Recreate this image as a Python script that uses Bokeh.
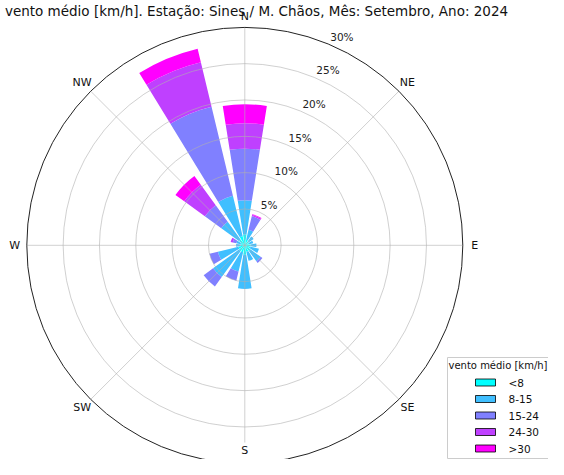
import numpy as np
from bokeh.plotting import figure
from bokeh.models import Range1d
from bokeh.embed import file_html
from bokeh.resources import INLINE
from bokeh.core.properties import value

# ---------------- data ----------------
title = "vento médio [km/h]. Estação: Sines / M. Chãos, Mês: Setembro, Ano: 2024"
directions = ["N", "NNE", "NE", "ENE", "E", "ESE", "SE", "SSE",
              "S", "SSW", "SW", "WSW", "W", "WNW", "NW", "NNW"]
bins = ["<8", "8-15", "15-24", "24-30", ">30"]
freq_lt8 = [1.5, 0.8, 0.7, 0.6, 0.8, 0.8, 1.0, 0.9, 1.3, 1.0, 1.0, 0.9, 0.6, 0.6, 1.0, 1.3]
freq_8_15 = [4.7, 1.4, 0.8, 0.6, 0.8, 1.2, 1.7, 1.3, 4.7, 2.7, 4.4, 2.9, 0.6, 0.6, 3.0, 5.7]
freq_15_24 = [7.1, 1.9, 0.0, 0.0, 0.0, 0.0, 0.3, 0.0, 0.0, 1.3, 1.6, 1.2, 0.0, 0.5, 2.8, 12.6]
freq_24_30 = [3.5, 0.2, 0.0, 0.0, 0.0, 0.0, 0.0, 0.0, 0.0, 0.0, 0.0, 0.0, 0.0, 0.3, 3.5, 6.3]
freq_gt30 = [2.6, 0.1, 0.0, 0.0, 0.0, 0.0, 0.0, 0.0, 0.0, 0.0, 0.0, 0.0, 0.0, 0.0, 1.5, 1.9]
rticks = [5, 10, 15, 20, 25, 30]
rtick_labels = ["5%", "10%", "15%", "20%", "25%", "30%"]
compass_labels = ["N", "NE", "E", "SE", "S", "SW", "W", "NW"]
legend_title = "vento médio [km/h]"

colors = ["#00ffff", "#40bfff", "#8080ff", "#bf40ff", "#ff00ff"]
FONT = "DejaVu Sans"

# ---------------- geometry (pixels of the figure) ----------------
W, H = 548, 459
RMAX = 30.0
S = 218.0 / RMAX          # px per percent
CXP, CYP = 244.3, 244.8   # pixel of the centre


def dx(xp):
    return (xp - CXP) / S


def dy(yp):
    return (CYP - yp) / S


p = figure(width=W, height=H, output_backend="svg", toolbar_location=None,
           x_range=Range1d(dx(0), dx(W)), y_range=Range1d(dy(H), dy(0)),
           min_border=0, background_fill_color="white", border_fill_color="white")
p.axis.visible = False
p.xgrid.visible = False
p.ygrid.visible = False
p.outline_line_color = None

# ---------------- bars ----------------
series = [freq_lt8, freq_8_15, freq_15_24, freq_24_30, freq_gt30]
n = len(directions)
theta = np.deg2rad(np.arange(n) * 360.0 / n)
half = np.deg2rad(360.0 / n) * 0.8 / 2
base = np.zeros(n)
for k, vals in enumerate(series):
    v = np.array(vals, dtype=float)
    m = v > 0
    inner = base[m]
    outer = base[m] + v[m]
    ang = np.pi / 2 - theta[m]
    p.annular_wedge(x=0, y=0, inner_radius=inner, outer_radius=outer,
                    start_angle=ang - half, end_angle=ang + half,
                    fill_color=colors[k], line_color=None)
    base = base + v

# ---------------- grid ----------------
grid_r = [r for r in rticks if r < RMAX]
p.circle(x=[0] * len(grid_r), y=[0] * len(grid_r), radius=grid_r,
         fill_color=None, line_color="#b0b0b0", line_alpha=0.75, line_width=0.8)
spoke = np.deg2rad(np.arange(8) * 45.0)
spoke_len = np.full(8, RMAX)
spoke_len[4] = (442.0 - CYP) / S   # leave room for the S label at the bottom edge
p.segment(x0=0, y0=0, x1=spoke_len * np.sin(spoke), y1=spoke_len * np.cos(spoke),
          line_color="#b0b0b0", line_alpha=0.75, line_width=0.8)
p.circle(x=0, y=0, radius=RMAX, fill_color=None, line_color="#222222", line_width=1)

# radial labels
ra = np.deg2rad(22.5)
rt = np.array(rticks, dtype=float)
p.text(x=rt * np.sin(ra) + 2.0 / S, y=rt * np.cos(ra) + 1.0 / S, text=rtick_labels,
       text_font=value(FONT), text_font_size="10.5px", text_color="#222222",
       text_align="left", text_baseline="bottom")

# compass labels
ca = np.deg2rad(np.arange(8) * 45.0)
rl = 230.0 / S
cxs = rl * np.sin(ca)
cys = rl * np.cos(ca)
cys[0] = dy(16)   # just under the title
cys[4] = dy(450)  # bottom edge of the picture
p.text(x=cxs, y=cys, text=compass_labels, text_font=value(FONT),
       text_font_size="11px", text_color="#111111",
       text_align="center", text_baseline="middle")

# title
p.text(x=[dx(256)], y=[dy(10.5)], text=[title], text_font=value(FONT),
       text_font_size="13.5px", text_color="#111111",
       text_align="center", text_baseline="alphabetic")

# ---------------- legend ----------------
p.quad(left=[dx(447)], right=[dx(575)], top=[dy(357)], bottom=[dy(458)],
       fill_color="white", fill_alpha=0.9, line_color="#cccccc", line_width=1)
p.text(x=[dx(448)], y=[dy(365)], text=[legend_title], text_font=value(FONT),
       text_font_size="10px", text_color="#111111",
       text_align="left", text_baseline="middle")
rows = np.array([382.0, 398.5, 415.0, 431.5, 448.0])
p.quad(left=dx(475), right=dx(495), top=dy(rows - 3.5), bottom=dy(rows + 3.5),
       fill_color=colors, line_color="#000000", line_width=0.8)
p.text(x=[dx(508)] * len(bins), y=dy(rows), text=bins, text_font=value(FONT),
       text_font_size="10.5px", text_color="#111111",
       text_align="left", text_baseline="middle")

open("out.html", "w").write(file_html(p, INLINE))
